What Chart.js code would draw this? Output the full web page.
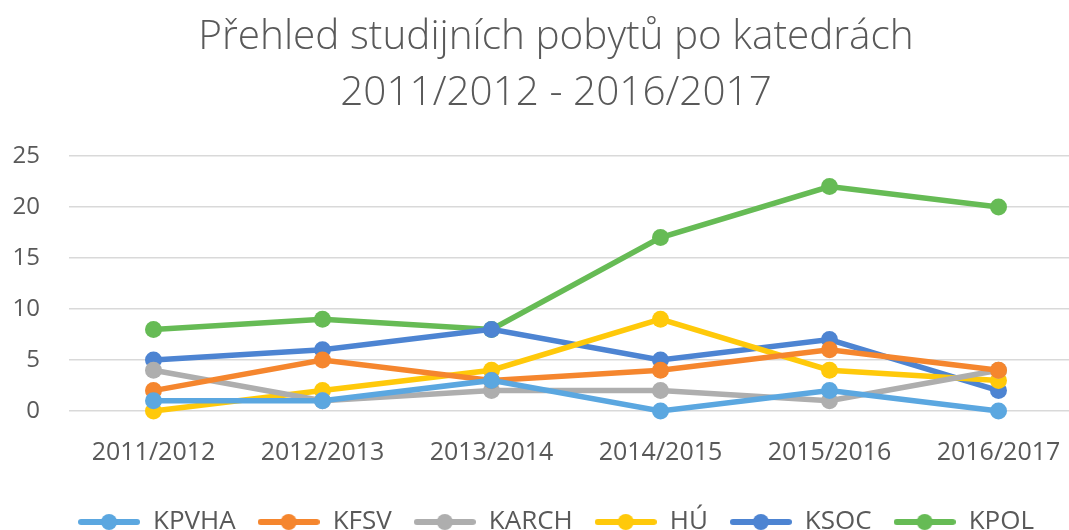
<!DOCTYPE html>
<html>
<head>
<meta charset="utf-8">
<script src="https://cdn.jsdelivr.net/npm/chart.js@4.4.1/dist/chart.umd.min.js"></script>
<style>
  html, body { margin: 0; padding: 0; background: #fff; overflow: hidden; }
  #wrap { width: 1112px; height: 545px; }
</style>
</head>
<body>
<div id="wrap"><canvas id="chart"></canvas></div>
<script>
const years = ['2011/2012', '2012/2013', '2013/2014', '2014/2015', '2015/2016', '2016/2017'];
const kpvha = [1, 1, 3, 0, 2, 0];
const kfsv = [2, 5, 3, 4, 6, 4];
const karch = [4, 1, 2, 2, 1, 4];
const hu = [0, 2, 4, 9, 4, 3];
const ksoc = [5, 6, 8, 5, 7, 2];
const kpol = [8, 9, 8, 17, 22, 20];
const yTicks = [0, 5, 10, 15, 20, 25];

const series = [
  { label: 'KPVHA', data: kpvha, color: '#5ba7e0' },
  { label: 'KFSV', data: kfsv, color: '#f5862e' },
  { label: 'KARCH', data: karch, color: '#aeaeae' },
  { label: 'HÚ', data: hu, color: '#ffc90a' },
  { label: 'KSOC', data: ksoc, color: '#4d84d2' },
  { label: 'KPOL', data: kpol, color: '#66bb55' }
];

// legend marker: line with dot, like the office charts
const legendMarker = color => {
  const c = document.createElement('canvas');
  c.width = 62; c.height = 20;
  const g = c.getContext('2d');
  g.strokeStyle = color;
  g.lineWidth = 6;
  g.lineCap = 'round';
  g.beginPath(); g.moveTo(3, 10); g.lineTo(59, 10); g.stroke();
  g.fillStyle = color;
  g.beginPath(); g.arc(31, 10, 8, 0, Math.PI * 2); g.fill();
  return c;
};

// y labels stick out left of the (narrow) axis box, so don't clip them
const yLabelRoom = {
  id: 'yLabelRoom',
  afterLayout: chart => { chart.scales.y.left = 0; }
};

const font = "'Open Sans', 'DejaVu Sans', sans-serif";

new Chart(document.getElementById('chart'), {
  type: 'line',
  data: {
    labels: years,
    datasets: series.map(s => ({
      label: s.label,
      data: s.data,
      borderColor: s.color,
      backgroundColor: s.color,
      borderWidth: 5.5,
      pointRadius: 8.5,
      pointHoverRadius: 8.5,
      pointBorderWidth: 0,
      tension: 0,
      clip: false
    }))
  },
  plugins: [yLabelRoom],
  options: {
    responsive: true,
    maintainAspectRatio: false,
    animation: false,
    layout: { padding: { left: 29, right: 29, top: 10, bottom: 0 } },
    plugins: {
      title: {
        display: true,
        text: ['Přehled studijních pobytů po katedrách', '2011/2012 - 2016/2017'],
        color: '#595959',
        font: { family: font, size: 40.5, weight: 300, lineHeight: 1.37 },
        padding: { top: 0, bottom: 35 }
      },
      legend: {
        position: 'bottom',
        labels: {
          color: '#595959',
          font: { family: font, size: 26 },
          usePointStyle: true,
          pointStyleWidth: 62,
          boxHeight: 20,
          padding: 22,
          generateLabels: chart => chart.data.datasets.map((ds, i) => ({
            text: ds.label,
            pointStyle: legendMarker(ds.borderColor),
            fillStyle: ds.borderColor,
            strokeStyle: ds.borderColor,
            lineWidth: 0,
            fontColor: '#595959',
            hidden: false,
            datasetIndex: i
          }))
        }
      },
      tooltip: { enabled: false }
    },
    scales: {
      x: {
        offset: true,
        grid: { display: false },
        border: { display: false },
        ticks: { color: '#595959', font: { family: font, size: 25 }, padding: 19, maxRotation: 0 }
      },
      y: {
        min: 0,
        max: 25,
        afterBuildTicks: axis => { axis.ticks = yTicks.map(v => ({ value: v })); },
        afterFit: axis => { axis.width = 40; },
        grid: { color: '#d9d9d9', lineWidth: 1.5, drawTicks: false },
        border: { display: false },
        ticks: { color: '#595959', font: { family: font, size: 24 }, padding: 29 }
      }
    }
  }
});
</script>
</body>
</html>
